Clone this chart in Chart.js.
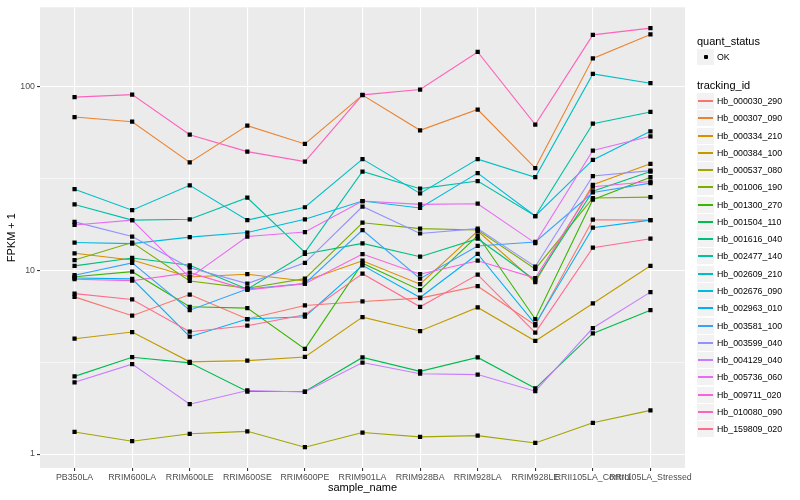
<!DOCTYPE html>
<html><head><meta charset="utf-8">
<script src="https://cdn.jsdelivr.net/npm/chart.js@4.4.0/dist/chart.umd.min.js"></script>
<style>
body{margin:0;background:#fff;font-family:"Liberation Sans",Arial,sans-serif;}
#wrap{position:relative;width:800px;height:500px;overflow:hidden;}
canvas{position:absolute;left:0;top:0;}
.lt{position:absolute;font-size:11px;color:#000;white-space:nowrap;height:14px;line-height:14px;}
.lg{position:absolute;font-size:8.8px;color:#000;white-space:nowrap;height:12px;line-height:12px;}
.key{position:absolute;width:17px;height:16px;background:#F2F2F2;}
.kl{position:absolute;left:1px;width:15px;height:2px;top:7px;}
.kd{position:absolute;width:4px;height:4px;background:#000;border-radius:1px;}
</style></head>
<body><div id="wrap"><canvas id="c" width="800" height="500"></canvas><div id="legend"></div></div>
<script>
const samples = ["PB350LA","RRIM600LA","RRIM600LE","RRIM600SE","RRIM600PE","RRIM901LA","RRIM928BA","RRIM928LA","RRIM928LE","RRII105LA_Control","RRII105LA_Stressed"];
const trackingIds = ["Hb_000030_290","Hb_000307_090","Hb_000334_210","Hb_000384_100","Hb_000537_080","Hb_001006_190","Hb_001300_270","Hb_001504_110","Hb_001616_040","Hb_002477_140","Hb_002609_210","Hb_002676_090","Hb_002963_010","Hb_003581_100","Hb_003599_040","Hb_004129_040","Hb_005736_060","Hb_009711_020","Hb_010080_090","Hb_159809_020"];

const Hb_000030_290 = [7.18, 5.67, 7.39, 5.44, 6.45, 6.78, 7.07, 8.21, 5.03, 18.9, 18.8];
const Hb_000307_090 = [68.5, 64.6, 38.8, 61.5, 48.9, 90.2, 58.0, 75.3, 36.1, 143, 193];
const Hb_000334_210 = [12.4, 11.4, 9.22, 9.54, 8.77, 11.3, 8.42, 16.4, 8.63, 29.3, 38.1];
const Hb_000384_100 = [4.25, 4.62, 3.18, 3.23, 3.38, 5.57, 4.68, 6.29, 4.13, 6.61, 10.6];
const Hb_000537_080 = [1.32, 1.175, 1.29, 1.33, 1.09, 1.31, 1.24, 1.26, 1.15, 1.48, 1.73];
const Hb_001006_190 = [11.4, 14.2, 8.77, 8.01, 9.03, 18.2, 16.9, 16.6, 10.2, 24.8, 25.1];
const Hb_001300_270 = [9.25, 9.85, 6.34, 6.24, 3.74, 10.94, 7.81, 15.5, 5.44, 24.3, 32.2];
const Hb_001504_110 = [2.65, 3.37, 3.14, 2.19, 2.19, 3.36, 2.82, 3.36, 2.28, 4.54, 6.08];
const Hb_001616_040 = [10.6, 11.7, 10.67, 7.91, 12.3, 14.04, 11.88, 14.9, 8.84, 27.0, 34.6];
const Hb_002477_140 = [22.9, 18.8, 19.0, 24.9, 12.55, 34.6, 27.9, 30.7, 19.8, 63, 73];
const Hb_002609_210 = [27.7, 21.3, 29.1, 18.8, 22.1, 40.4, 26.3, 40.4, 32.2, 117.6, 104.7];
const Hb_002676_090 = [14.2, 14.0, 15.2, 16.1, 19.0, 23.9, 21.9, 33.9, 19.8, 40.0, 57.3];
const Hb_002963_010 = [9.1, 9.0, 4.36, 5.44, 5.60, 10.67, 7.12, 12.3, 5.10, 17.1, 18.8];
const Hb_003581_100 = [9.42, 11.0, 6.08, 7.93, 8.48, 16.6, 9.03, 13.6, 14.3, 26.6, 29.9];
const Hb_003599_040 = [18.4, 15.3, 10.35, 8.48, 11.0, 22.3, 15.9, 16.9, 10.5, 32.7, 35.0];
const Hb_004129_040 = [2.46, 3.09, 1.87, 2.22, 2.18, 3.15, 2.74, 2.71, 2.20, 4.86, 7.62];
const Hb_005736_060 = [17.7, 18.8, 9.14, 15.3, 16.2, 23.9, 22.9, 23.1, 14.1, 45.0, 53.8];
const Hb_009711_020 = [8.96, 8.8, 9.73, 7.84, 8.48, 12.29, 9.54, 11.3, 9.1, 28.6, 30.5];
const Hb_010080_090 = [88, 90.8, 54.9, 44.4, 39.2, 90.5, 96.7, 155, 62.3, 192, 209];
const Hb_159809_020 = [7.48, 6.95, 4.64, 5.0, 5.74, 9.61, 6.34, 9.5, 4.59, 13.3, 14.9];

const seriesValues = [Hb_000030_290, Hb_000307_090, Hb_000334_210, Hb_000384_100, Hb_000537_080, Hb_001006_190, Hb_001300_270, Hb_001504_110, Hb_001616_040, Hb_002477_140, Hb_002609_210, Hb_002676_090, Hb_002963_010, Hb_003581_100, Hb_003599_040, Hb_004129_040, Hb_005736_060, Hb_009711_020, Hb_010080_090, Hb_159809_020];

const yMajorTicks = [1, 10, 100];
const yMajorLabels = ["1", "10", "100"];
const yMinorTicks = [3.1623, 31.623];
const quantStatus = ["OK"];

const palette = ["#F8766D","#EA8331","#D89000","#C09B00","#A3A500","#7CAE00","#39B600","#00BB4E","#00BF7D","#00C1A3","#00BFC4","#00BAE0","#00B0F6","#35A2FF","#9590FF","#C77CFF","#E76BF3","#FA62DB","#FF62BC","#FF6C91"];
const FONT = '"Liberation Sans", Arial, sans-serif';

const isMajor = v => yMajorTicks.some(t => Math.abs(t - v) < 1e-6);

const lineSets = seriesValues.map((vals, i) => ({
  label: trackingIds[i],
  data: vals.map((v, j) => ({x: j, y: v})),
  borderColor: palette[i],
  borderWidth: 1.1,
  pointRadius: 0,
  fill: false,
  tension: 0,
  order: 100 - i
}));
const pointSet = {
  label: quantStatus[0],
  data: seriesValues.flatMap(vals => vals.map((v, j) => ({x: j, y: v}))),
  showLine: false,
  pointStyle: 'rect',
  pointRadius: 3.0,
  backgroundColor: '#000',
  borderColor: '#000',
  borderWidth: 0,
  order: -1
};

const panelBg = {
  id: 'panelBg',
  beforeDraw(chart) {
    const {ctx, chartArea: {left, top, width, height}} = chart;
    ctx.save();
    ctx.fillStyle = '#EBEBEB';
    ctx.fillRect(left, top, width, height);
    ctx.restore();
  }
};

new Chart(document.getElementById('c'), {
  type: 'line',
  data: {datasets: [...lineSets, pointSet]},
  plugins: [panelBg],
  options: {
    responsive: false,
    animation: false,
    events: [],
    layout: {padding: {left: 0, right: 115, top: 5, bottom: 0}},
    plugins: {legend: {display: false}, tooltip: {enabled: false}},
    scales: {
      x: {
        type: 'linear', min: -0.6, max: 10.6,
        afterBuildTicks: s => { s.ticks = samples.map((_, i) => ({value: i})); },
        afterFit: s => { s.height = 32; },
        grid: {color: '#FFFFFF', lineWidth: 1.1, drawTicks: true, tickLength: 3, tickColor: '#333333'},
        border: {display: false},
        ticks: {autoSkip: false, maxRotation: 0, minRotation: 0, padding: 1, color: '#4D4D4D',
          font: {family: FONT, size: 8.8}, callback: v => samples[v]},
        title: {display: true, text: 'sample_name', color: '#000', font: {family: FONT, size: 11},
          padding: {top: 0, bottom: 5.4}}
      },
      y: {
        type: 'logarithmic', min: 0.8397, max: 271.4,
        afterBuildTicks: s => { s.ticks = [...yMajorTicks, ...yMinorTicks].sort((a, b) => a - b).map(v => ({value: v})); },
        afterFit: s => { s.width = 40; },
        grid: {color: '#FFFFFF', lineWidth: c => isMajor(c.tick.value) ? 1.1 : 0.55, drawTicks: true, tickLength: 3,
          tickColor: c => isMajor(c.tick.value) ? '#333333' : 'rgba(0,0,0,0)'},
        border: {display: false},
        ticks: {padding: 2, color: '#4D4D4D', font: {family: FONT, size: 8.8},
          callback: v => { const k = yMajorTicks.findIndex(t => Math.abs(t - v) < 1e-6); return k >= 0 ? yMajorLabels[k] : ''; }},
        title: {display: true, text: 'FPKM + 1', color: '#000', font: {family: FONT, size: 11},
          padding: {top: 5.4, bottom: 0}}
      }
    }
  }
});

// legend (HTML text)
const lg = document.getElementById('legend');
function add(cls, x, y, txt) {
  const d = document.createElement('div');
  d.className = cls; d.style.left = x + 'px'; d.style.top = y + 'px';
  if (txt) d.textContent = txt;
  lg.appendChild(d); return d;
}
add('lt', 697, 34, 'quant_status');
const qk = add('key', 697, 49, '');
const dot = document.createElement('div'); dot.className = 'kd'; dot.style.left = '6.5px'; dot.style.top = '6px'; qk.appendChild(dot);
add('lg', 717, 51, quantStatus[0]);
add('lt', 697, 78, 'tracking_id');
const step = 17.27, first = 101;
trackingIds.forEach((id, i) => {
  const cy = Math.round(first + i * step);
  const k = add('key', 697, cy - 8, '');
  const l = document.createElement('div'); l.className = 'kl'; l.style.background = palette[i]; k.appendChild(l);
  add('lg', 717, cy - 6, id);
});
</script>
</body></html>
